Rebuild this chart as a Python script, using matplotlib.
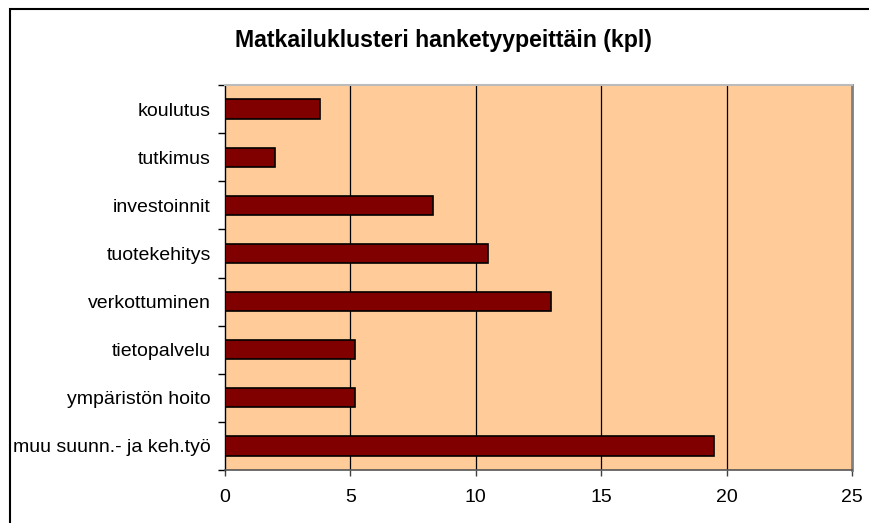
import matplotlib
matplotlib.use("Agg")
import matplotlib.pyplot as plt
from matplotlib.patches import Rectangle

plt.rcParams['font.family'] = ['Liberation Sans', 'DejaVu Sans']

# data (top to bottom as shown)
categories = ['koulutus', 'tutkimus', 'investoinnit', 'tuotekehitys',
              'verkottuminen', 'tietopalvelu', 'ympäristön hoito',
              'muu suunn.- ja keh.työ']
values = [3.8, 2.0, 8.3, 10.5, 13.0, 5.2, 5.2, 19.5]
xticks = [0, 5, 10, 15, 20, 25]

W, H = 870, 523
fig = plt.figure(figsize=(W / 100, H / 100), dpi=100)
ax = fig.add_axes([225 / W, 53 / H, (852 - 225) / W, (470 - 85) / H])
ax.set_facecolor('#FFCC99')

n = len(categories)
ypos = list(range(n))
ax.barh(ypos, values, height=0.4, color='#800000', edgecolor='black',
        linewidth=1.2, zorder=3)

ax.set_xlim(0, 25)
ax.set_ylim(n - 0.5, -0.5)
ax.set_xticks(xticks)
ax.set_xticklabels([str(t) for t in xticks], fontsize=14)
ax.tick_params(axis='x', length=4, width=1, pad=10, colors='#404040',
               labelcolor='black')

# category labels between the boundary ticks
ax.set_yticks(ypos)
ax.set_yticklabels(categories, fontsize=14)
ax.tick_params(axis='y', length=0, pad=10)
ax.set_yticks([i - 0.5 for i in range(n + 1)], minor=True)
ax.tick_params(axis='y', which='minor', length=5, width=1, colors='black')

for x in xticks[1:-1]:
    ax.axvline(x, color='black', linewidth=0.9, zorder=1)

ax.spines['left'].set_color('black')
ax.spines['left'].set_linewidth(1)
ax.spines['bottom'].set_color('#555555')
ax.spines['bottom'].set_linewidth(1.2)
ax.spines['top'].set_color('#BBBBBB')
ax.spines['top'].set_linewidth(1.5)
ax.spines['right'].set_color('#808080')
ax.spines['right'].set_linewidth(2)

fig.text(443 / W, 1 - 41 / H, 'Matkailuklusteri hanketyypeittäin (kpl)',
         ha='center', va='center', fontsize=16.7, fontweight='bold')

# outer chart border
fig.patches.append(Rectangle((10 / W, -0.1), 1.2, 1 - 8.5 / H + 0.1,
                             transform=fig.transFigure, fill=False,
                             edgecolor='black', linewidth=1.5, clip_on=False))

fig.savefig('out.png', dpi=100)
